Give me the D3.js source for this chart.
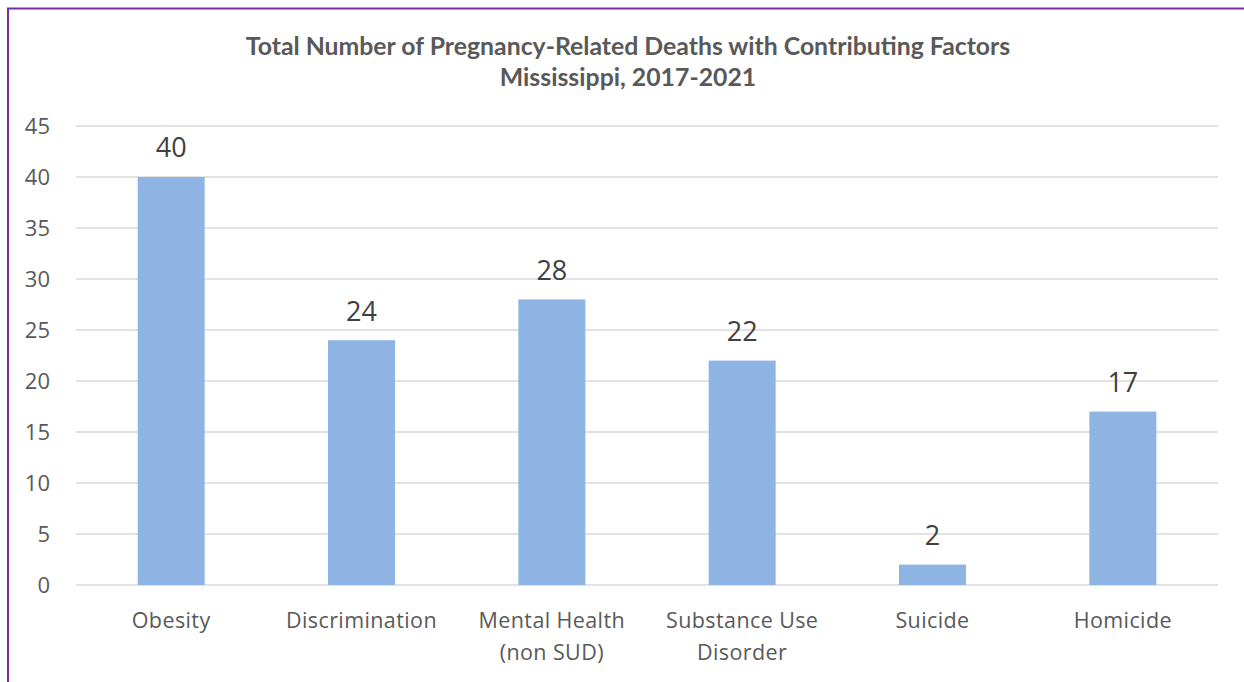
<!DOCTYPE html>
<html><head><meta charset="utf-8">
<script src="https://cdn.jsdelivr.net/npm/d3@7"></script>
<style>body{margin:0;background:#fff}svg{display:block}</style>
</head><body>
<script>
const categories = [["Obesity"], ["Discrimination"], ["Mental Health", "(non SUD)"], ["Substance Use", "Disorder"], ["Suicide"], ["Homicide"]];
const values = [40, 24, 28, 22, 2, 17];
const yTicks = [0, 5, 10, 15, 20, 25, 30, 35, 40, 45];
const titleLines = ["Total Number of Pregnancy-Related Deaths with Contributing Factors", "Mississippi, 2017-2021"];

(function () {
const W = 1244, H = 682;
const font = "'Open Sans', sans-serif";
const tfont = "Lato, sans-serif";
const svg = d3.select("body").append("svg").attr("width", W).attr("height", H);

svg.append("path").attr("d", `M8,${H+5} L8,8.5 L${W+5},8.5`).attr("fill", "none").attr("stroke", "#7030A0").attr("stroke-width", 2);

const pl = 76, pr = 1218, pt = 126, pb = 585;
const x = d3.scaleBand().domain(d3.range(categories.length)).range([pl, pr]).padding(0);
const y = d3.scaleLinear().domain([0, 45]).range([pb, pt]);

svg.append("g").selectAll("line").data(yTicks).join("line")
  .attr("x1", pl).attr("x2", pr)
  .attr("y1", d => y(d)).attr("y2", d => y(d))
  .attr("stroke", "#d9d9d9").attr("stroke-width", 1.5);

svg.append("g").selectAll("text").data(yTicks).join("text")
  .attr("x", 50).attr("y", d => y(d)).attr("dy", "0.35em")
  .attr("text-anchor", "end").attr("font-family", font).attr("font-size", 22).attr("fill", "#595959")
  .text(d => d);

const bw = x.bandwidth() * 0.352;
svg.append("g").selectAll("rect").data(values).join("rect")
  .attr("x", (d, i) => x(i) + x.bandwidth() / 2 - bw / 2)
  .attr("width", bw)
  .attr("y", d => y(d)).attr("height", d => y(0) - y(d))
  .attr("fill", "#8EB4E3");

svg.append("g").selectAll("text").data(values).join("text")
  .attr("x", (d, i) => x(i) + x.bandwidth() / 2).attr("y", d => y(d) - 29).attr("dy", "0.35em")
  .attr("text-anchor", "middle").attr("font-family", font).attr("font-size", 27).attr("fill", "#404040")
  .text(d => d);

const xl = svg.append("g").selectAll("text").data(categories).join("text")
  .attr("text-anchor", "middle").attr("font-family", font).attr("font-size", 21.5)
  .attr("letter-spacing", 0.4).attr("fill", "#595959");
xl.each(function(lines, i) {
  d3.select(this).selectAll("tspan").data(lines).join("tspan")
    .attr("x", x(i) + x.bandwidth() / 2).attr("y", (l, j) => 620 + j * 32).attr("dy", "0.35em").text(l => l);
});

svg.append("g").selectAll("text").data(titleLines).join("text")
  .attr("x", 628).attr("y", (d, i) => 46 + i * 31).attr("dy", "0.35em")
  .attr("text-anchor", "middle").attr("font-family", tfont).attr("font-weight", "bold")
  .attr("font-size", 24.8).attr("fill", "#595959").text(d => d);
})();
</script>
</body></html>
